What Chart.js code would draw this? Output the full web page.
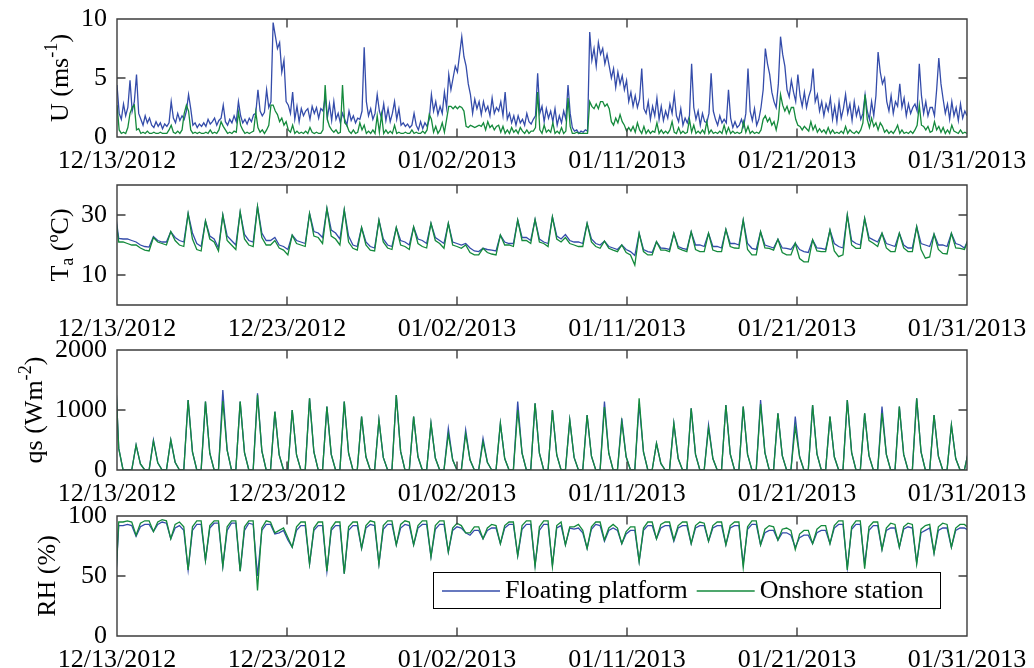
<!DOCTYPE html>
<html>
<head>
<meta charset="utf-8">
<script src="https://cdn.jsdelivr.net/npm/chart.js@4.4.1/dist/chart.umd.min.js"></script>
<style>
  body { margin: 0; background: #fff; }
  #wrap { position: relative; width: 1034px; height: 668px; overflow: hidden; }
  #wrap canvas { position: absolute; left: 0; }
</style>
</head>
<body>
<div id="wrap">
  <canvas id="c-u" width="1034" height="177" style="top:0px"></canvas>
  <canvas id="c-ta" width="1034" height="179" style="top:166px"></canvas>
  <canvas id="c-qs" width="1034" height="179" style="top:331px"></canvas>
  <canvas id="c-rh" width="1034" height="171" style="top:497px"></canvas>
</div>
<script>
// x axis: days since 12/13/2012 00:00, ticks as MATLAB put them (linspace over 49 days)
const xTickPos = [0, 9.8, 19.6, 29.4, 39.2, 49]
const xTickLabels = ['12/13/2012', '12/23/2012', '01/02/2013', '01/11/2013', '01/21/2013', '01/31/2013']

const seriesNames = ['Floating platform', 'Onshore station']

// wind speed U (m/s), every 3 h from 12/13 00:00, one row of 8 per day
const uFloat = [
  4.4,2.0,1.5,2.8,1.8,2.5,4.8,2.2, 3.0,5.3,2.0,1.5,1.0,1.8,1.2,1.6, 1.0,0.8,1.3,0.9,1.2,0.7,1.1,0.9,
  1.2,3.0,1.6,1.2,2.0,1.4,1.8,1.5, 2.2,3.6,2.4,1.0,1.2,0.8,1.1,0.9, 1.2,0.9,1.5,1.1,1.3,1.6,1.0,1.4,
  1.6,2.7,1.3,1.0,1.5,1.2,1.8,1.3, 3.0,1.8,1.2,1.5,1.1,1.6,1.3,1.9, 2.0,4.0,2.2,1.8,2.1,4.0,2.5,3.0,
  9.7,8.6,7.5,8.0,5.5,6.5,3.0,2.7, 2.0,3.8,1.5,2.6,1.3,2.4,1.8,2.2, 2.4,1.5,2.6,2.0,2.5,1.6,2.4,2.2,
  3.4,1.6,2.8,1.4,3.0,1.5,2.0,1.2, 2.0,1.5,1.0,2.2,1.4,1.8,1.2,1.6, 1.5,2.2,7.6,3.0,1.8,2.4,1.5,2.0,
  3.6,2.2,1.6,2.8,1.4,2.4,1.3,2.0, 3.0,1.5,2.4,1.0,1.2,0.9,1.1,0.8, 1.0,2.0,1.0,0.6,1.3,0.7,1.2,0.9,
  1.5,3.6,2.2,3.0,1.9,2.6,2.0,3.8, 2.5,5.3,4.0,5.0,6.0,5.5,7.0,8.5, 6.8,6.0,4.5,3.6,2.0,3.2,2.4,3.0,
  1.9,3.0,2.2,2.6,1.8,3.3,2.0,2.5, 2.2,3.0,1.8,3.8,1.5,2.0,1.2,1.8, 1.0,1.8,1.2,1.5,1.0,2.0,1.3,1.1,
  1.5,1.8,5.4,2.0,2.6,1.3,2.4,1.6, 2.2,1.3,2.4,1.0,1.8,1.2,2.2,1.5, 4.4,2.0,0.8,0.5,0.6,0.3,0.5,0.4,
  0.6,0.5,8.9,6.5,7.5,6.0,8.0,7.0, 7.5,6.2,7.0,6.0,5.0,5.8,4.2,5.5, 4.5,5.2,4.0,4.8,3.0,3.8,2.6,3.5,
  2.5,3.2,5.8,2.4,2.0,3.0,1.5,2.6, 1.8,3.3,1.5,2.6,1.4,2.2,1.6,2.8, 2.0,3.6,1.8,1.3,2.4,1.0,1.6,1.2,
  1.8,6.2,2.5,1.5,2.2,1.0,2.0,1.3, 1.2,2.0,5.4,2.2,1.5,1.0,1.8,1.2, 1.5,1.2,4.0,1.6,0.8,1.3,0.8,1.0,
  1.5,0.9,2.0,5.8,2.2,1.4,2.4,1.0, 1.5,2.5,4.0,7.5,6.2,5.3,3.8,3.0, 2.5,4.5,8.5,7.0,6.0,4.0,3.4,4.8,
  3.8,3.0,5.3,3.5,2.6,3.8,2.5,3.4, 4.0,5.8,3.0,3.6,2.2,3.0,1.8,2.8, 2.2,3.3,1.5,2.6,1.3,3.0,1.6,2.4,
  3.6,2.0,2.8,1.4,3.0,1.8,2.5,1.5, 2.0,3.6,2.2,1.5,3.0,1.8,3.5,7.2, 5.5,4.5,5.0,3.0,2.2,3.5,2.0,3.0,
  2.6,4.5,2.5,3.3,1.8,2.8,2.0,2.5, 2.8,2.2,6.2,3.5,2.0,3.0,1.8,2.5, 2.5,1.8,4.0,6.7,4.5,3.2,2.0,2.8,
  1.5,3.0,1.8,2.5,1.4,2.8,1.6,2.2,
  1.8]
const uShore = [
  2.7,0.6,0.3,0.4,0.3,0.8,2.0,2.5, 2.7,0.6,0.7,0.3,0.4,0.3,0.5,0.3, 0.3,0.4,0.3,0.3,0.4,0.3,0.3,0.3,
  0.6,1.0,0.4,0.3,0.5,0.3,0.6,2.0, 2.7,2.2,0.6,0.3,0.4,0.3,0.4,0.3, 0.3,0.4,0.3,0.6,0.3,0.4,0.3,0.6,
  1.3,0.9,0.6,0.3,0.4,0.3,0.5,0.4, 2.1,1.0,0.6,0.3,0.4,0.3,0.4,0.5, 2.1,0.8,0.4,0.6,0.3,0.6,1.0,2.7,
  2.7,2.2,1.9,1.3,1.6,1.0,1.3,0.6, 0.4,1.0,0.3,0.5,0.3,0.4,0.3,0.5, 0.3,0.8,0.4,0.3,0.4,0.3,0.3,0.6,
  4.4,1.5,0.9,0.6,0.4,0.6,0.3,0.4, 4.4,1.2,1.0,0.5,0.3,0.6,0.3,0.4, 1.2,0.6,1.0,0.3,0.5,0.3,0.6,0.3,
  1.8,0.4,1.9,0.3,0.6,0.3,0.5,0.3, 1.0,0.3,0.4,0.3,0.3,0.4,0.3,0.3, 0.6,0.3,0.4,0.3,0.3,0.5,0.3,0.6,
  1.9,1.5,0.4,0.9,0.3,0.6,1.2,0.4, 1.5,2.6,2.6,2.4,2.6,2.4,2.6,2.5, 2.2,0.9,0.8,1.0,0.9,0.8,0.9,1.0,
  0.9,1.2,0.6,1.3,0.8,1.0,0.6,0.9, 1.0,0.4,0.9,0.3,0.6,0.3,0.8,0.4, 0.6,0.3,0.8,0.5,0.3,0.6,0.3,0.5,
  0.5,0.8,3.8,0.6,0.3,1.0,0.4,0.6, 0.4,1.2,0.3,0.5,0.3,0.8,0.3,0.5, 3.3,0.9,0.3,0.3,0.4,0.3,0.3,0.3,
  0.3,0.3,3.0,2.6,2.4,2.8,2.4,3.0, 3.0,2.6,2.8,2.4,1.3,1.0,1.6,1.2, 1.9,1.3,1.0,0.5,0.8,0.5,0.9,0.4,
  1.2,0.6,0.3,0.9,0.3,0.6,0.3,0.5, 0.4,1.2,0.3,0.6,0.3,0.5,0.3,0.6, 1.3,0.4,0.3,0.8,0.3,0.5,0.3,0.4,
  1.5,0.4,1.0,0.3,0.5,0.3,0.6,0.3, 1.3,0.3,0.6,0.3,0.4,0.3,0.5,0.3, 1.0,0.3,0.8,0.3,0.5,0.3,0.4,0.3,
  0.4,1.3,0.4,0.9,0.3,0.5,0.3,0.4, 0.3,0.6,1.5,1.8,1.3,1.6,1.0,1.3, 0.6,1.5,3.6,2.7,2.2,2.6,2.0,2.5,
  2.5,1.5,1.0,0.9,0.6,0.9,0.7,0.5, 1.3,0.6,1.0,0.4,0.7,0.4,0.6,0.3, 0.8,0.3,0.6,0.3,0.4,0.3,0.5,0.3,
  0.9,0.3,0.6,0.4,0.3,0.5,0.3,0.6, 1.2,3.6,1.5,0.8,1.6,0.9,1.2,0.6, 1.2,0.9,0.4,0.6,0.3,0.5,0.3,0.6,
  1.0,0.3,0.6,0.3,0.4,0.3,0.5,0.3, 0.6,1.0,2.7,1.0,0.9,0.6,0.9,0.4, 0.5,1.3,0.6,0.9,0.4,0.8,0.3,0.6,
  0.3,1.0,0.5,0.4,0.3,0.6,0.3,0.4,
  0.3]

// the other three panels: every 6 h, first sample at 12/12 20:24 (slightly before the axis start)
// air temperature Ta (deg C)
const taFloat = [33,
  22.2,22.0,22.0,21.5, 21.0,20.0,19.5,19.3, 22.8,21.5,21.0,21.0, 24.4,22.5,21.5,21.0, 30.5,24.0,20.5,19.5,
  28.0,23.0,22.0,19.0, 30.0,23.0,21.5,20.0, 31.0,23.5,21.5,21.0, 32.8,24.0,21.5,21.5, 22.5,20.0,19.5,18.5,
  23.3,21.5,21.0,20.5, 30.5,24.5,24.0,22.5, 32.2,25.0,24.0,22.0, 31.7,23.0,20.0,19.5, 25.8,21.0,19.5,19.0,
  28.3,22.0,20.0,19.5, 25.8,21.5,21.0,20.0, 26.0,22.0,21.5,20.5, 27.2,22.5,21.5,20.5, 27.2,21.0,20.5,20.0,
  20.5,19.0,18.0,17.8, 18.9,18.5,18.3,18.0, 23.3,21.0,20.5,20.5, 28.3,22.5,22.5,21.5, 28.5,22.0,21.0,20.5,
  29.4,23.0,22.0,23.5, 21.5,21.0,21.0,20.5, 27.2,22.0,20.5,20.0, 21.3,19.5,19.0,18.5, 20.0,18.5,17.8,16.5,
  23.9,18.5,17.8,17.5, 21.1,19.0,18.9,18.5, 23.9,19.5,18.9,18.5, 24.4,20.0,20.0,19.5, 23.9,19.5,19.5,19.0,
  25.2,20.5,20.5,20.0, 28.3,20.5,18.9,18.5, 24.4,20.0,19.5,19.0, 21.9,19.0,18.9,18.5, 20.6,18.5,17.8,17.5,
  21.7,19.0,18.9,18.5, 25.0,20.5,19.5,19.0, 30.0,21.5,20.5,20.0, 28.9,22.5,21.7,21.0, 23.9,20.5,20.0,19.5,
  23.9,20.0,19.0,19.0, 26.1,20.5,20.0,19.5, 23.6,20.0,20.0,19.5, 23.9,20.5,20.0,19.0,
  22.2]
const taShore = [32,
  21.0,21.0,20.5,20.0, 20.0,19.0,18.3,18.0, 22.5,21.0,20.5,20.0, 24.5,21.5,20.0,19.5, 30.5,22.0,18.5,18.0,
  28.0,22.0,21.0,18.0, 30.0,21.5,20.0,18.5, 31.0,22.0,20.0,19.5, 32.8,22.5,20.0,20.0, 21.5,19.0,18.3,16.7,
  23.3,20.5,20.0,19.5, 30.5,23.0,22.5,20.5, 32.2,23.0,22.0,20.0, 31.7,21.0,18.9,18.3, 25.8,20.0,18.3,18.0,
  28.3,21.0,19.0,18.5, 25.8,20.0,19.5,18.5, 26.0,20.5,19.5,19.0, 27.2,21.5,20.5,18.9, 27.2,20.0,19.5,18.9,
  20.0,17.5,16.7,16.7, 18.9,17.5,17.0,16.7, 23.3,20.0,20.0,19.5, 28.3,21.5,21.5,20.5, 28.5,21.0,20.5,19.5,
  29.4,22.0,21.0,22.5, 20.5,20.0,19.5,19.5, 27.2,21.0,19.5,18.9, 21.3,18.9,18.3,17.8, 20.0,17.5,16.7,13.3,
  23.9,17.8,16.7,16.7, 21.1,18.3,18.3,17.8, 23.9,18.9,18.3,17.8, 24.4,18.5,17.8,17.8, 23.9,18.3,17.8,17.8,
  25.2,19.5,19.0,18.9, 28.3,18.5,16.7,16.7, 24.4,19.0,18.9,18.3, 21.9,17.5,16.7,16.7, 20.6,15.5,14.4,14.4,
  21.7,18.0,17.8,17.8, 25.0,18.0,16.1,16.7, 30.0,20.0,18.9,18.9, 28.9,21.5,20.6,19.5, 23.9,19.0,17.8,17.8,
  23.9,19.0,17.8,17.8, 26.1,18.5,15.6,16.0, 23.6,18.5,17.2,17.0, 23.9,19.0,18.9,18.5,
  22.2]

// solar radiation qs (W/m2)
const qsFloat = [2000,
  360,0,0,0, 417,100,0,0, 500,120,0,0, 500,130,0,0, 1167,300,0,0,
  1139,280,0,0, 1333,330,0,0, 1139,290,0,0, 1278,320,0,0, 972,250,0,0,
  1000,250,0,0, 1194,300,0,0, 1056,260,0,0, 1139,280,0,0, 889,220,0,0,
  833,210,0,0, 1250,310,0,0, 889,220,0,0, 778,200,0,0, 694,170,0,0,
  667,170,0,0, 528,130,0,0, 778,190,0,0, 1139,280,0,0, 1111,280,0,0,
  1000,250,0,0, 833,210,0,0, 917,230,0,0, 1139,280,0,0, 861,220,0,0,
  1100,300,0,0, 444,110,0,0, 778,190,0,0, 1028,260,0,0, 750,190,0,0,
  1083,270,0,0, 1056,260,0,0, 1167,290,0,0, 944,240,0,0, 889,220,0,0,
  1083,270,0,0, 889,220,0,0, 1167,290,0,0, 944,240,0,0, 1056,260,0,0,
  1056,260,0,0, 1194,300,0,0, 917,230,0,0, 750,190,0,0,
  333]
const qsShore = [2000,
  360,0,0,0, 417,100,0,0, 480,120,0,0, 500,130,0,0, 1167,300,0,0,
  1139,280,0,0, 1150,330,0,0, 1139,290,0,0, 1250,320,0,0, 972,250,0,0,
  1000,250,0,0, 1194,300,0,0, 1056,260,0,0, 1139,280,0,0, 889,220,0,0,
  833,210,0,0, 1250,310,0,0, 889,220,0,0, 778,200,0,0, 600,170,0,0,
  600,170,0,0, 470,130,0,0, 778,190,0,0, 1000,280,0,0, 1111,280,0,0,
  1000,250,0,0, 833,210,0,0, 917,230,0,0, 1050,280,0,0, 800,220,0,0,
  1194,300,0,0, 444,110,0,0, 778,190,0,0, 1028,260,0,0, 700,190,0,0,
  1083,270,0,0, 1056,260,0,0, 1100,290,0,0, 944,240,0,0, 720,220,0,0,
  1083,270,0,0, 889,220,0,0, 1167,290,0,0, 944,240,0,0, 950,260,0,0,
  1056,260,0,0, 1194,300,0,0, 917,230,0,0, 750,190,0,0,
  333]

// relative humidity RH (%)
const rhFloat = [25,
  92,92,93,92, 83,91,93,93, 87,93,95,94, 81,90,92,88, 55,88,93,93,
  63,90,94,94, 58,88,94,94, 54,88,94,93, 50,88,93,93, 85,86,88,80,
  74,88,92,92, 60,88,92,92, 54,88,92,92, 52,88,92,92, 73,90,93,92,
  60,89,93,93, 76,90,93,92, 76,90,93,93, 66,89,93,93, 70,88,91,90,
  86,84,88,88, 81,88,90,90, 77,90,93,93, 67,89,93,93, 59,88,93,93,
  59,90,92,76, 90,89,90,86, 73,89,93,92, 79,88,90,88, 77,85,88,88,
  62,88,92,92, 81,90,92,92, 79,90,92,92, 77,90,92,92, 79,90,92,92,
  76,90,92,92, 60,89,93,93, 76,86,88,88, 80,86,86,84, 74,82,84,84,
  77,86,88,88, 77,90,93,93, 57,89,93,93, 60,88,92,92, 72,88,90,90,
  74,89,91,90, 61,86,88,90, 69,88,90,90, 74,88,90,90,
  88]
const rhShore = [25,
  95,95,96,95, 84,94,96,96, 87,95,97,96, 81,93,95,91, 55,91,96,96,
  63,92,96,96, 58,91,96,96, 54,91,96,96, 38,90,96,95, 86,88,90,82,
  74,91,95,95, 60,90,95,95, 54,90,95,95, 52,91,95,95, 73,92,96,95,
  60,92,96,96, 76,93,96,95, 76,92,96,96, 66,92,96,96, 70,90,94,92,
  86,86,91,91, 81,90,93,92, 77,92,95,95, 67,92,96,96, 58,91,96,96,
  58,92,95,76, 91,91,93,88, 73,91,95,95, 80,90,93,90, 77,87,91,91,
  62,90,95,95, 81,93,95,95, 80,92,95,95, 77,92,95,94, 79,92,95,95,
  76,92,95,95, 57,91,96,96, 76,89,92,91, 80,89,90,88, 72,85,88,88,
  77,89,92,92, 77,92,96,96, 55,91,96,96, 56,91,95,95, 72,90,94,93,
  74,91,94,93, 60,89,92,93, 69,91,94,93, 74,90,93,93,
  90]

const BLUE = 'rgb(52, 76, 170)'
const GREEN = 'rgb(20, 138, 60)'
const FONT_FAMILY = '"Liberation Serif", "Times New Roman", serif'
const FONT_SIZE = 26

// frame with inward ticks on all four sides, like a MATLAB axes box
const matlabBox = {
    id: 'matlabBox',
    afterDatasetsDraw(chart) {
        const { ctx, chartArea: a, scales } = chart
        const tl = 8.5
        ctx.save()
        ctx.strokeStyle = '#3c3c3c'
        ctx.lineWidth = 1.4
        ctx.beginPath()
        ctx.rect(a.left, a.top, a.right - a.left, a.bottom - a.top)
        scales.x.ticks.forEach(t => {
            const px = scales.x.getPixelForValue(t.value)
            ctx.moveTo(px, a.bottom); ctx.lineTo(px, a.bottom - tl)
            ctx.moveTo(px, a.top); ctx.lineTo(px, a.top + tl)
        })
        scales.y.ticks.forEach(t => {
            const py = scales.y.getPixelForValue(t.value)
            ctx.moveTo(a.left, py); ctx.lineTo(a.left + tl, py)
            ctx.moveTo(a.right, py); ctx.lineTo(a.right - tl, py)
        })
        ctx.stroke()
        ctx.restore()
    }
}

// rotated y title with super/subscripts, kept clear of the widest tick label (MATLAB does the same)
const axisTitle = {
    id: 'axisTitle',
    afterDraw(chart, args, opts) {
        if (!opts.parts) return
        const { ctx, chartArea: a, scales } = chart
        const fontOf = p => ((p.sup || p.sub) ? FONT_SIZE * 0.7 : FONT_SIZE) + 'px ' + FONT_FAMILY
        ctx.save()
        ctx.font = FONT_SIZE + 'px ' + FONT_FAMILY
        let labelW = 0
        scales.y.ticks.forEach(t => { labelW = Math.max(labelW, ctx.measureText(t.label).width) })
        const cxTitle = a.left - 10 - labelW - 22
        let w = 0
        opts.parts.forEach(p => { ctx.font = fontOf(p); w += ctx.measureText(p.t).width })
        ctx.translate(cxTitle, (a.top + a.bottom) / 2)
        ctx.rotate(-Math.PI / 2)
        ctx.fillStyle = '#000'
        ctx.textBaseline = 'alphabetic'
        let cx = -w / 2
        const base = FONT_SIZE * 0.33
        opts.parts.forEach(p => {
            ctx.font = fontOf(p)
            let dy = 0
            if (p.sup) dy = -FONT_SIZE * 0.42
            if (p.sub) dy = FONT_SIZE * 0.22
            ctx.fillText(p.t, cx, base + dy)
            cx += ctx.measureText(p.t).width
        })
        ctx.restore()
    }
}

// boxed legend inside the bottom panel
const boxLegend = {
    id: 'boxLegend',
    afterDraw(chart, args, opts) {
        if (!opts.show) return
        const { ctx, chartArea: a } = chart
        const x0 = a.left + 316, y0 = a.top + 56, w = 507, h = 36
        ctx.save()
        ctx.fillStyle = '#fff'
        ctx.fillRect(x0, y0, w, h)
        ctx.strokeStyle = '#000'
        ctx.lineWidth = 1
        ctx.strokeRect(x0 + 0.5, y0 + 0.5, w, h)
        ctx.font = FONT_SIZE + 'px ' + FONT_FAMILY
        ctx.textBaseline = 'middle'
        ctx.fillStyle = '#000'
        const cy = y0 + h / 2 + 1
        let cx = x0 + 9
        const items = chart.data.datasets.slice().sort((p, q) => p.legendIndex - q.legendIndex)
        items.forEach(ds => {
            ctx.strokeStyle = ds.borderColor
            ctx.lineWidth = 1.3
            ctx.beginPath()
            ctx.moveTo(cx, cy); ctx.lineTo(cx + 58, cy)
            ctx.stroke()
            cx += 63
            ctx.fillText(ds.label, cx, cy)
            cx += ctx.measureText(ds.label).width + 9
        })
        ctx.restore()
    }
}

function toPoints(values, t0, step) {
    return values.map((v, i) => ({ x: t0 + i * step, y: v }))
}

function makePanel(p) {
    const canvas = document.getElementById(p.id)
    const tickFont = { family: FONT_FAMILY, size: FONT_SIZE }
    return new Chart(canvas, {
        type: 'line',
        data: {
            datasets: [
                { label: seriesNames[0], data: toPoints(p.blue, p.t0, p.step), borderColor: BLUE, order: 1, legendIndex: 0 },
                { label: seriesNames[1], data: toPoints(p.green, p.t0, p.step), borderColor: GREEN, order: 0, legendIndex: 1 }
            ]
        },
        options: {
            responsive: false,
            animation: false,
            layout: { padding: { top: 19, right: 67, left: 0, bottom: 0 } },
            elements: {
                point: { radius: 0 },
                line: { borderWidth: 1.3, tension: 0, fill: false }
            },
            plugins: {
                legend: { display: false },
                tooltip: { enabled: false },
                axisTitle: { parts: p.title },
                boxLegend: { show: !!p.legend }
            },
            scales: {
                x: {
                    type: 'linear',
                    min: 0,
                    max: 49,
                    // grid hidden, tickLength only used as the gap to the labels
                    grid: { display: false, drawTicks: true, tickLength: 9 },
                    border: { display: false },
                    afterBuildTicks: s => { s.ticks = xTickPos.map(v => ({ value: v })) },
                    afterFit: s => { s.height = canvas.height - 19 - p.areaH },
                    ticks: {
                        autoSkip: false, maxRotation: 0, padding: 0, color: '#000', font: tickFont,
                        callback: (v, i) => xTickLabels[i]
                    }
                },
                y: {
                    min: p.yMin,
                    max: p.yMax,
                    grid: { display: false, drawTicks: true, tickLength: 10 },
                    border: { display: false },
                    afterBuildTicks: s => { s.ticks = p.yTicks.map(v => ({ value: v })) },
                    afterFit: s => { s.width = 117 },
                    ticks: { padding: 0, color: '#000', font: tickFont, callback: v => String(v) }
                }
            }
        },
        plugins: [matlabBox, axisTitle, boxLegend]
    })
}

const panels = [
    { id: 'c-u', areaH: 118, yMin: 0, yMax: 10, yTicks: [0, 5, 10], blue: uFloat, green: uShore,
      t0: 0, step: 0.125,
      title: [{ t: 'U (ms' }, { t: '-1', sup: true }, { t: ')' }] },
    { id: 'c-ta', areaH: 120, yMin: 0, yMax: 40, yTicks: [10, 30], blue: taFloat, green: taShore,
      t0: -0.15, step: 0.25,
      title: [{ t: 'T' }, { t: 'a', sub: true }, { t: ' (ºC)' }] },
    { id: 'c-qs', areaH: 120, yMin: 0, yMax: 2000, yTicks: [0, 1000, 2000], blue: qsFloat, green: qsShore,
      t0: -0.15, step: 0.25,
      title: [{ t: 'qs (Wm' }, { t: '-2', sup: true }, { t: ')' }] },
    { id: 'c-rh', areaH: 120, yMin: 0, yMax: 100, yTicks: [0, 50, 100], blue: rhFloat, green: rhShore,
      t0: -0.15, step: 0.25,
      title: [{ t: 'RH (%)' }], legend: true }
]

panels.forEach(makePanel)
</script>
</body>
</html>
